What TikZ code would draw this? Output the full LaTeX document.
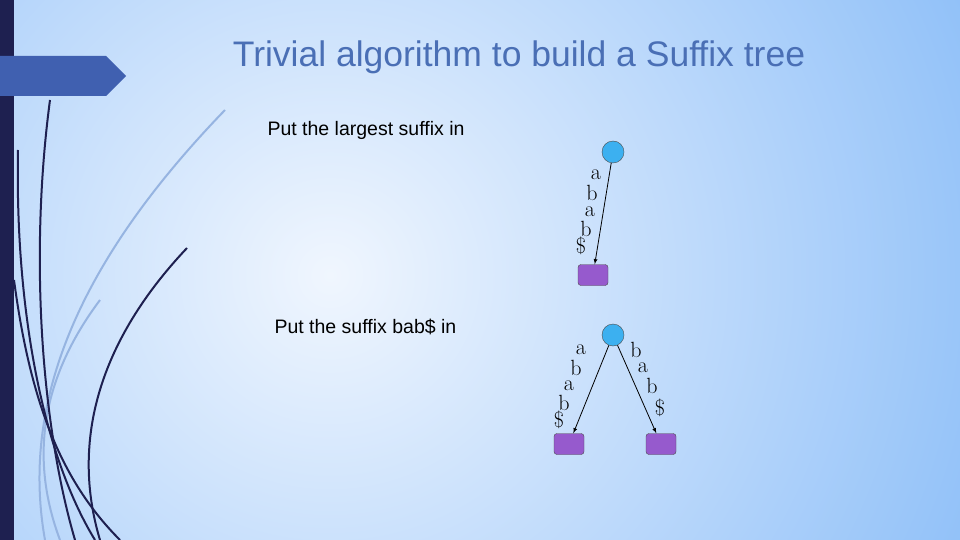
\documentclass[tikz,border=0pt]{standalone}
\usepackage{fontspec}
\setmainfont{Liberation Sans}
\newfontfamily\serifletters{Latin Modern Roman}
\definecolor{navy}{RGB}{30,32,80}
\definecolor{barblue}{RGB}{64,96,176}
\definecolor{rootblue}{RGB}{60,176,240}
\definecolor{leafpurple}{RGB}{150,90,205}
\definecolor{titleblue}{RGB}{74,111,181}
\definecolor{bgin}{RGB}{240,246,254}
\definecolor{bgout}{RGB}{140,190,248}
\definecolor{lightsw}{RGB}{150,180,225}
\begin{document}
\begin{tikzpicture}[x=1pt,y=-1pt,
  root/.style={circle,draw=black!70,fill=rootblue,minimum size=22pt,inner sep=0pt},
  leaf/.style={rectangle,rounded corners=3pt,draw=black!70,fill=leafpurple,minimum width=30pt,minimum height=21pt,inner sep=0pt},
  lbl/.style={font=\serifletters\fontsize{22}{22}\selectfont,inner sep=0pt},
  edge/.style={draw=black,line width=0.8pt,-latex},
  swoosh/.style={line width=2pt,draw=navy},
  swooshl/.style={line width=2pt,draw=lightsw}]
\useasboundingbox (0,0) rectangle (960,540);
\begin{scope}
\clip (0,0) rectangle (960,540);
\shade[inner color=bgin,outer color=bgout] (-400,-450) rectangle (1060,1000);
\end{scope}
\fill[navy] (0,0) rectangle (14,540);
\fill[barblue] (0,56) -- (106,56) -- (126,76) -- (106,96) -- (0,96) -- cycle;
\draw[swooshl] (225,110) .. controls (80,260) and (20,400) .. (45,540);
\draw[swooshl] (100,300) .. controls (40,380) and (30,460) .. (60,540);
\draw[swoosh] (50,100) .. controls (30,250) and (40,420) .. (75,540);
\draw[swoosh] (18,150) .. controls (15,300) and (40,450) .. (95,540);
\draw[swoosh] (187,248) .. controls (100,340) and (70,440) .. (100,540);
\draw[swoosh] (14,280) .. controls (30,400) and (60,480) .. (120,540);
\node[font=\fontsize{35.5}{36}\selectfont,text=titleblue] (title) at (519,57) {Trivial algorithm to build a Suffix tree};
\node[anchor=west,font=\fontsize{19.5}{20}\selectfont] (t1) at (264,130) {Put the largest suffix in};
\node[anchor=west,font=\fontsize{19.5}{20}\selectfont] (t2) at (271,327) {Put the suffix bab\$ in};
\node[root] (r1) at (613,152) {};
\node[leaf] (l1) at (593,275) {};
\draw[edge] (r1) -- (l1);
\node[lbl] at (596,175) {a};
\node[lbl] at (592,193) {b};
\node[lbl] at (590,212) {a};
\node[lbl] at (586,229) {b};
\node[lbl] at (581,246) {\$};
\node[root] (r2) at (613,335) {};
\node[leaf] (l2) at (569,444) {};
\node[leaf] (l3) at (661,444) {};
\draw[edge] (r2) -- (l2);
\draw[edge] (r2) -- (l3);
\node[lbl] at (581,350) {a};
\node[lbl] at (576,368) {b};
\node[lbl] at (569,386) {a};
\node[lbl] at (564,403) {b};
\node[lbl] at (559,420) {\$};
\node[lbl] at (636,350) {b};
\node[lbl] at (643,368) {a};
\node[lbl] at (652,386) {b};
\node[lbl] at (660,408) {\$};
\end{tikzpicture}
\end{document}
